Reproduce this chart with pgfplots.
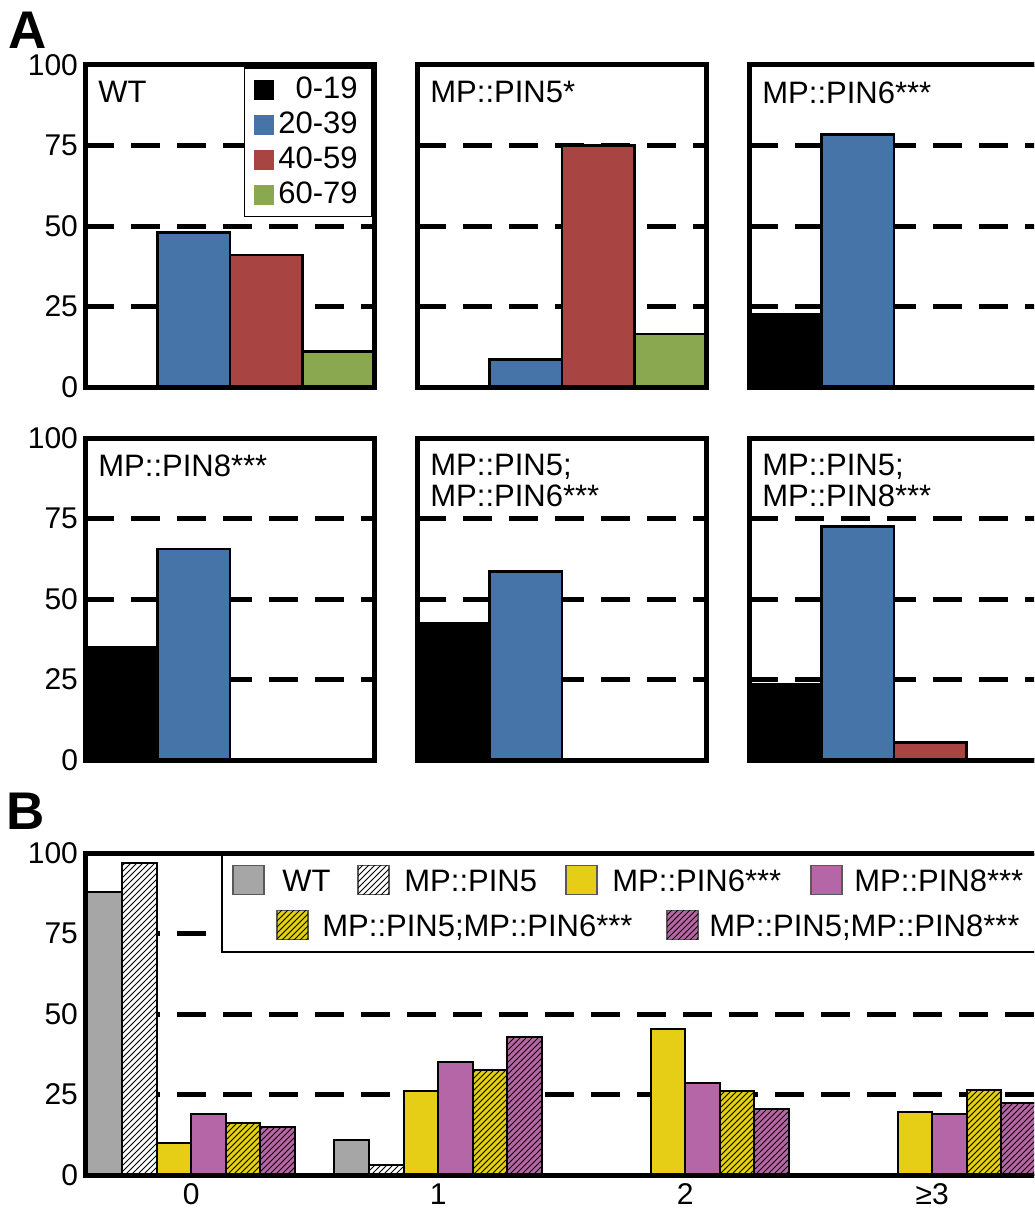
\documentclass[border=0pt]{standalone}
\usepackage{fontspec}
\setmainfont{Liberation Sans}
\usepackage{pgfplots}
\pgfplotsset{compat=1.18}
\usetikzlibrary{patterns}

\definecolor{cblue}{RGB}{70,115,168}
\definecolor{cred}{RGB}{168,68,66}
\definecolor{cgreen}{RGB}{138,168,80}
\definecolor{cgray}{RGB}{166,166,166}
\definecolor{cyellow}{RGB}{230,206,22}
\definecolor{cmag}{RGB}{180,102,166}

\newcommand{\tf}{\fontsize{15.5}{15.5}\selectfont}

\pgfplotsset{
  /pgf/number format/assume math mode=true,
  base/.style={
    scale only axis, height=161pt,
    ymin=0, ymax=100, ytick={0,25,50,75,100},
    major tick length=0pt,
    ymajorgrids,
    major grid style={black, line width=2.5pt, dash pattern=on 14.5pt off 8.5pt},
    axis line style={line width=2.5pt},
    ticklabel style={font=\fontsize{15}{16}\selectfont},
    ybar,
  },
  panel/.style={base, width=145pt, xmin=-0.5, xmax=3.5, bar width=1, xtick=\empty,
    every axis plot/.append style={bar shift=0, draw=black, line width=1.3pt}},
  noy/.style={yticklabels={}},
  sqleg/.style={legend image code/.code={\path[##1,draw=none] (0pt,-5pt) rectangle (10pt,5pt);}},
}
\newcommand{\frm}{\draw[line width=2.5pt] (rel axis cs:0,0) rectangle (rel axis cs:1,1);}
\newcommand{\ttl}[1]{\node[anchor=north west, inner sep=0pt, align=left, font=\tf,
  xshift=6.5pt, yshift=-8pt] at (rel axis cs:0,1) {#1};}

\begin{document}
\begin{tikzpicture}
\useasboundingbox (0,0) rectangle (517pt,-605pt);
\clip (0,0) rectangle (517pt,-605pt);

% ---------- A, row 1
\begin{axis}[panel, at={(42.5pt,-32.5pt)}, anchor=north west,
  legend style={at={(rel axis cs:1,1)}, anchor=north east, xshift=-1.25pt, yshift=-1.25pt,
    draw=black, line width=0.8pt, inner xsep=5pt, inner ysep=2pt, row sep=0pt, font=\tf,
    nodes={inner sep=2pt, text height=11pt, text depth=2.5pt}},
  legend cell align=right]
\addplot[fill=black, sqleg] coordinates {(0,0)};
\addlegendentry{0-19}
\addplot[fill=cblue, sqleg] coordinates {(1,48)};
\addlegendentry{20-39}
\addplot[fill=cred, sqleg] coordinates {(2,41)};
\addlegendentry{40-59}
\addplot[fill=cgreen, sqleg] coordinates {(3,11)};
\addlegendentry{60-79}
\frm
\ttl{WT}
\end{axis}

\begin{axis}[panel, noy, at={(208.5pt,-32.5pt)}, anchor=north west]
\addplot[fill=cblue] coordinates {(1,8.5)};
\addplot[fill=cred] coordinates {(2,75)};
\addplot[fill=cgreen] coordinates {(3,16.5)};
\frm
\ttl{MP::PIN5*}
\end{axis}

\begin{axis}[panel, noy, at={(374.5pt,-32.5pt)}, anchor=north west]
\addplot[fill=black] coordinates {(0,22.5)};
\addplot[fill=cblue] coordinates {(1,78.5)};
\frm
\ttl{MP::PIN6***}
\end{axis}

% ---------- A, row 2
\begin{axis}[panel, at={(42.5pt,-219pt)}, anchor=north west]
\addplot[fill=black] coordinates {(0,35)};
\addplot[fill=cblue] coordinates {(1,65.5)};
\frm
\ttl{MP::PIN8***}
\end{axis}

\begin{axis}[panel, noy, at={(208.5pt,-219pt)}, anchor=north west]
\addplot[fill=black] coordinates {(0,42.5)};
\addplot[fill=cblue] coordinates {(1,58.5)};
\frm
\ttl{MP::PIN5;\\MP::PIN6***}
\end{axis}

\begin{axis}[panel, noy, at={(374.5pt,-219pt)}, anchor=north west]
\addplot[fill=black] coordinates {(0,23.5)};
\addplot[fill=cblue] coordinates {(1,72.5)};
\addplot[fill=cred] coordinates {(2,5.5)};
\frm
\ttl{MP::PIN5;\\MP::PIN8***}
\end{axis}

% ---------- B
\begin{axis}[base, at={(42.5pt,-426.5pt)}, anchor=north west,
  width=477.5pt, xmin=-0.43, xmax=3.436, bar width=0.14,
  xtick={0,1,2,3}, xticklabels={0,1,2,≥3},
  xticklabel style={inner ysep=0.5pt, yshift=-3.5pt},
  every axis plot/.append style={draw=black, line width=1pt}]
\addplot[fill=cgray, bar shift=-0.35] coordinates {(0,88) (1,11)};
\addplot[fill=white, postaction={pattern=north east lines}, bar shift=-0.21]
  coordinates {(0,97) (1,3)};
\addplot[fill=cyellow, bar shift=-0.07] coordinates {(0,10) (1,26) (2,45.5) (3,19.5)};
\addplot[fill=cmag, bar shift=0.07] coordinates {(0,19) (1,35) (2,28.5) (3,18.8)};
\addplot[fill=cyellow, postaction={pattern=north east lines}, bar shift=0.21]
  coordinates {(0,16) (1,32.5) (2,26) (3,26.3)};
\addplot[fill=cmag, postaction={pattern=north east lines}, bar shift=0.35]
  coordinates {(0,15) (1,43) (2,20.5) (3,22.5)};
\frm
\end{axis}

% ---------- panel letters and legend of B (pixel units)
\begin{scope}[x=0.5pt, y=-0.5pt]
\node[anchor=base west, inner sep=0pt, font=\fontsize{26.5}{26.5}\bfseries\selectfont] at (8,48) {A};
\node[anchor=base west, inner sep=0pt, font=\fontsize{26.5}{26.5}\bfseries\selectfont] at (6,829) {B};

\draw[line width=1pt, fill=white] (222,855) rectangle (1045,952);
\tikzset{sw/.style={draw=black!65, line width=0.7pt}, lt/.style={anchor=base west, inner sep=0pt, font=\tf}}
\draw[sw, fill=cgray] (233,865.5) rectangle ++(31,29);
\node[lt] at (282,891) {WT};
\draw[sw, fill=white, postaction={pattern=north east lines}] (358,865.5) rectangle ++(31,29);
\node[lt] at (404,891) {MP::PIN5};
\draw[sw, fill=cyellow] (566,865.5) rectangle ++(31,29);
\node[lt] at (612,891) {MP::PIN6***};
\draw[sw, fill=cmag] (811,865.5) rectangle ++(31,29);
\node[lt] at (854,891) {MP::PIN8***};
\draw[sw, fill=cyellow, postaction={pattern=north east lines}] (277,910.5) rectangle ++(31,29);
\node[lt] at (322,936) {MP::PIN5;MP::PIN6***};
\draw[sw, fill=cmag, postaction={pattern=north east lines}] (667,910.5) rectangle ++(31,29);
\node[lt] at (709,936) {MP::PIN5;MP::PIN8***};
\end{scope}
\end{tikzpicture}
\end{document}
